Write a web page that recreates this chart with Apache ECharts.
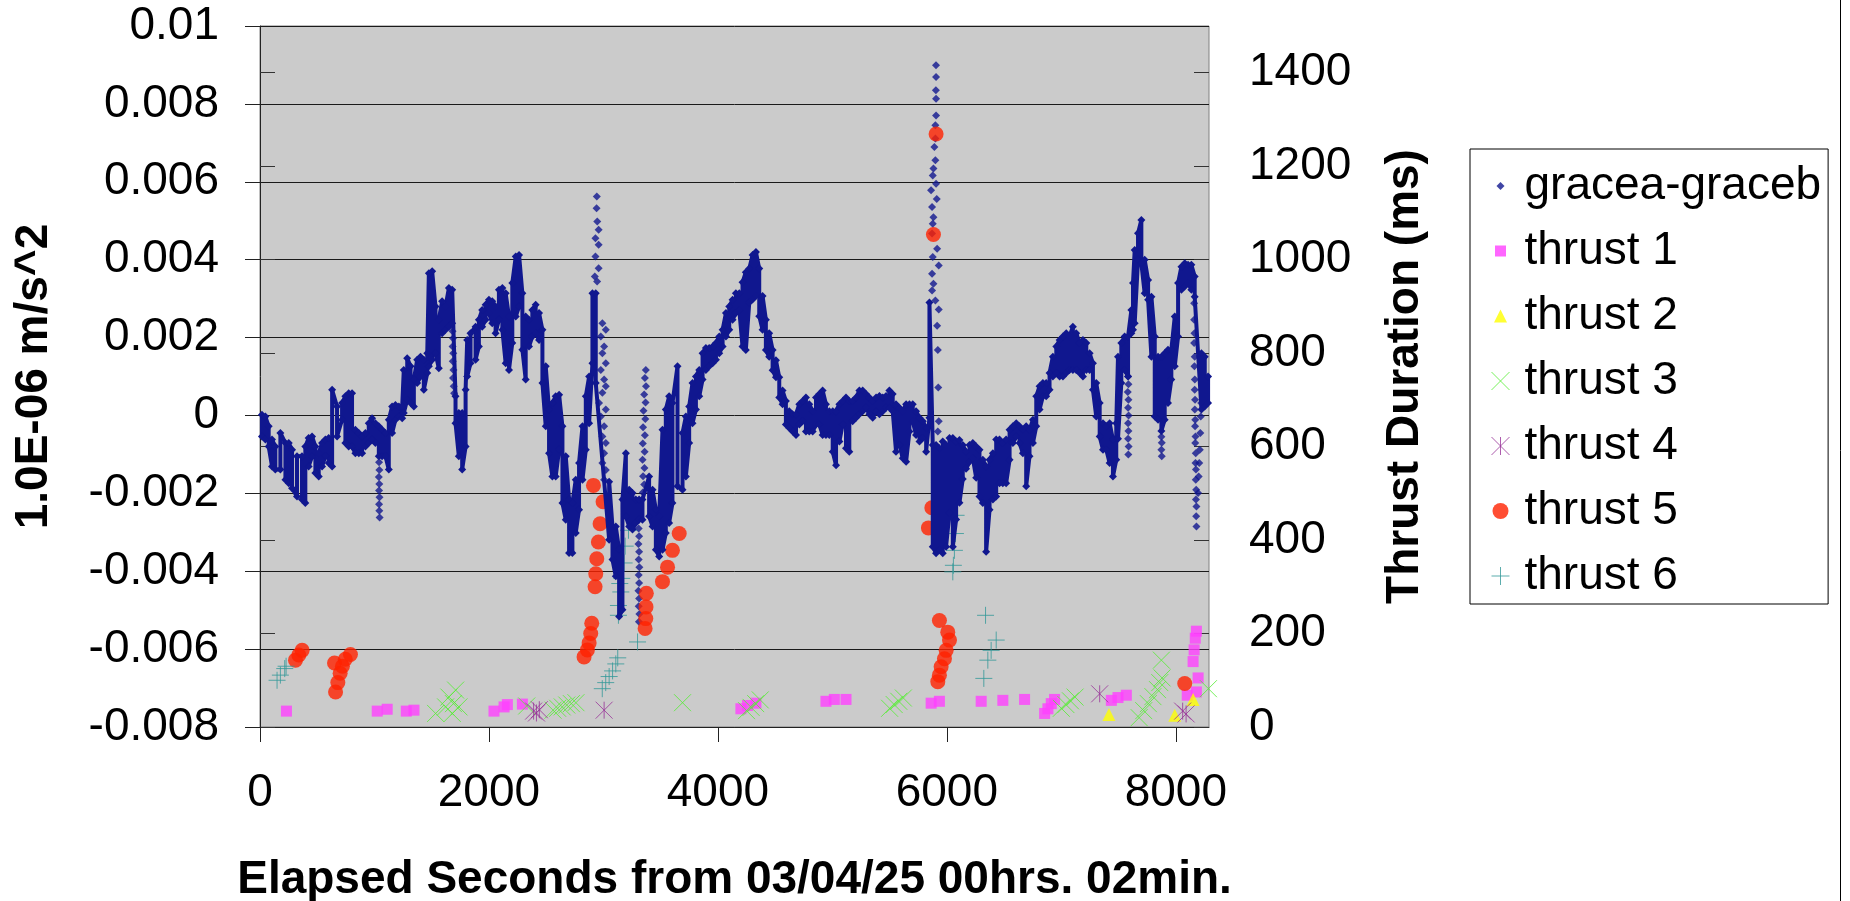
<!DOCTYPE html>
<html>
<head>
<meta charset="utf-8">
<title>gracea-graceb thrusts</title>
<script src="https://cdn.jsdelivr.net/npm/echarts@6/dist/echarts.min.js"></script>
<style>
html, body { margin: 0; padding: 0; background: #fff; }
#chart { width: 1850px; height: 901px; }
</style>
</head>
<body>
<div id="chart"></div>
<script>
var xTicks = [0, 2000, 4000, 6000, 8000];
var rightTicks = [0, 200, 400, 600, 800, 1000, 1200, 1400];

// gracea-graceb dense trace: top / bottom of the band at each time
var graceX = [17, 47, 76, 105, 134, 178, 222, 251, 280, 323,
    367, 396, 425, 455, 484, 513, 542, 571, 600, 630,
    673, 717, 746, 775, 804, 833, 863, 892, 921, 950,
    979, 1008, 1038, 1067, 1096, 1125, 1154, 1183, 1213, 1242,
    1256, 1286, 1315, 1344, 1373, 1402, 1431, 1461, 1475, 1504,
    1533, 1562, 1591, 1621, 1650, 1679, 1708, 1737, 1766, 1796,
    1810, 1839, 1883, 1912, 1941, 1971, 2000, 2029, 2058, 2087,
    2117, 2146, 2175, 2204, 2234, 2263, 2292, 2321, 2350, 2379,
    2408, 2438, 2467, 2496, 2525, 2554, 2583, 2613, 2642, 2671,
    2700, 2729, 2758, 2787, 2817, 2846, 2875, 2904, 2933, 3050,
    3079, 3108, 3137, 3166, 3196, 3225, 3254, 3283, 3312, 3341,
    3399, 3429, 3458, 3487, 3516, 3545, 3574, 3603, 3647, 3691,
    3720, 3749, 3778, 3808, 3837, 3866, 3895, 3924, 3954, 3983,
    4012, 4041, 4070, 4099, 4128, 4157, 4187, 4215, 4244, 4274,
    4303, 4332, 4361, 4390, 4419, 4448, 4478, 4507, 4536, 4565,
    4594, 4623, 4653, 4682, 4711, 4740, 4769, 4798, 4828, 4857,
    4886, 4915, 4944, 4973, 5003, 5032, 5061, 5090, 5119, 5148,
    5177, 5207, 5236, 5265, 5294, 5323, 5352, 5382, 5411, 5440,
    5469, 5498, 5527, 5556, 5586, 5615, 5644, 5673, 5702, 5731,
    5761, 5790, 5819, 5848, 5877, 5906, 5935, 5964, 5993, 6023,
    6052, 6081, 6110, 6139, 6168, 6198, 6227, 6256, 6285, 6314,
    6343, 6373, 6402, 6431, 6460, 6489, 6518, 6548, 6577, 6606,
    6635, 6664, 6693, 6722, 6752, 6781, 6810, 6839, 6868, 6897,
    6926, 6956, 6985, 7014, 7043, 7072, 7101, 7130, 7160, 7189,
    7218, 7247, 7276, 7305, 7335, 7364, 7393, 7422, 7451, 7480,
    7495, 7524, 7553, 7583, 7612, 7626, 7641, 7670, 7699, 7728,
    7758, 7787, 7816, 7845, 7874, 7903, 7932, 7961, 7991, 8020,
    8049, 8078, 8107, 8136, 8165, 8224, 8253, 8282];
var graceHi = [0.00002, -0.00003, -0.00028, -0.00062, -0.00080, -0.00045, -0.00071, -0.00071, -0.00088, -0.00105,
    -0.00105, -0.00080, -0.00058, -0.00054, -0.00080, -0.00097, -0.00071, -0.00062, -0.00058, 0.00066,
    0.00023, 0.00032, 0.00049, 0.00057, 0.00057, -0.00037, -0.00045, -0.00054, -0.00045, -0.00020,
    -0.00007, -0.00020, -0.00028, -0.00037, -0.00045, -0.00011, 0.00023, 0.00027, 0.00023, 0.00023,
    0.00117, 0.00147, 0.00126, 0.00092, 0.00143, 0.00151, 0.00143, 0.00160, 0.00365, 0.00370,
    0.00280, 0.00246, 0.00293, 0.00280, 0.00327, 0.00323, 0.00049, 0.00006, 0.00006, 0.00066,
    0.00194, 0.00211, 0.00228, 0.00246, 0.00271, 0.00284, 0.00297, 0.00293, 0.00280, 0.00323,
    0.00327, 0.00314, 0.00254, 0.00340, 0.00408, 0.00412, 0.00314, 0.00254, 0.00246, 0.00271,
    0.00284, 0.00263, 0.00220, 0.00126, 0.00015, 0.00032, 0.00049, 0.00053, -0.00028, -0.00105,
    -0.00216, -0.00225, -0.00165, -0.00122, -0.00028, 0.00049, 0.00100, 0.00314, 0.00314, -0.00170,
    -0.00285, -0.00285, -0.00345, -0.00216, -0.00097, -0.00191, -0.00199, -0.00216, -0.00216, -0.00216,
    -0.00157, -0.00191, -0.00242, -0.00259, -0.00037, 0.00015, 0.00049, 0.00032, 0.00126, -0.00045,
    -0.00003, 0.00023, 0.00083, 0.00100, 0.00117, 0.00160, 0.00173, 0.00173, 0.00177, 0.00186,
    0.00203, 0.00220, 0.00263, 0.00280, 0.00297, 0.00314, 0.00314, 0.00342, 0.00368, 0.00377,
    0.00412, 0.00420, 0.00377, 0.00307, 0.00246, 0.00211, 0.00168, 0.00142, 0.00098, 0.00064,
    0.00037, 0.00011, 0.00003, 0.00003, 0.00029, 0.00037, 0.00046, 0.00029, 0.00011, 0.00046,
    0.00055, 0.00064, 0.00029, 0.00011, 0.00011, 0.00011, 0.00029, 0.00037, 0.00046, 0.00037,
    0.00037, 0.00046, 0.00064, 0.00064, 0.00055, 0.00046, 0.00037, 0.00046, 0.00050, 0.00046,
    0.00050, 0.00064, 0.00055, 0.00029, 0.00020, 0.00011, 0.00029, 0.00029, 0.00029, 0.00011,
    -0.00006, -0.00015, -0.00032, 0.00290, -0.00076, -0.00076, -0.00084, -0.00067, -0.00076, -0.00058,
    -0.00058, -0.00067, -0.00063, -0.00076, -0.00093, -0.00076, -0.00071, -0.00080, -0.00088, -0.00114,
    -0.00131, -0.00114, -0.00097, -0.00062, -0.00062, -0.00071, -0.00062, -0.00037, -0.00028, -0.00020,
    -0.00028, -0.00037, -0.00028, -0.00037, -0.00011, 0.00049, 0.00075, 0.00083, 0.00083, 0.00109,
    0.00151, 0.00177, 0.00194, 0.00203, 0.00211, 0.00203, 0.00228, 0.00211, 0.00186, 0.00194,
    0.00186, 0.00160, 0.00134, 0.00083, 0.00032, -0.00020, -0.00028, -0.00020, -0.00062, -0.00020,
    0.00151, 0.00186, 0.00203, 0.00203, 0.00271, 0.00340, 0.00425, 0.00468, 0.00502, 0.00400,
    0.00348, 0.00305, 0.00203, 0.00151, 0.00151, 0.00160, 0.00169, 0.00169, 0.00254, 0.00340,
    0.00382, 0.00391, 0.00387, 0.00387, 0.00357, 0.00160, 0.00151, 0.00100];
var graceLo = [-0.00054, -0.00062, -0.00080, -0.00131, -0.00139, -0.00139, -0.00165, -0.00174, -0.00187, -0.00208,
    -0.00216, -0.00225, -0.00131, -0.00105, -0.00148, -0.00157, -0.00131, -0.00105, -0.00122, -0.00131,
    -0.00054, -0.00011, -0.00071, -0.00080, -0.00080, -0.00097, -0.00097, -0.00097, -0.00080, -0.00071,
    -0.00062, -0.00071, -0.00105, -0.00105, -0.00105, -0.00139, -0.00045, -0.00011, -0.00003, -0.00007,
    0.00006, 0.00040, 0.00032, 0.00023, 0.00083, 0.00100, 0.00066, 0.00109, 0.00126, 0.00143,
    0.00160, 0.00121, 0.00211, 0.00220, 0.00228, 0.00237, -0.00020, -0.00105, -0.00139, -0.00080,
    0.00100, 0.00134, 0.00143, 0.00177, 0.00228, 0.00246, 0.00263, 0.00237, 0.00211, 0.00246,
    0.00220, 0.00134, 0.00117, 0.00186, 0.00254, 0.00280, 0.00169, 0.00092, 0.00177, 0.00203,
    0.00211, 0.00194, 0.00083, -0.00028, -0.00097, -0.00157, -0.00157, -0.00088, -0.00225, -0.00268,
    -0.00353, -0.00353, -0.00302, -0.00242, -0.00165, -0.00088, -0.00020, 0.00134, 0.00083, -0.00319,
    -0.00370, -0.00413, -0.00516, -0.00499, -0.00259, -0.00285, -0.00293, -0.00276, -0.00268, -0.00268,
    -0.00259, -0.00285, -0.00345, -0.00362, -0.00345, -0.00302, -0.00276, -0.00225, -0.00182, -0.00191,
    -0.00157, -0.00071, -0.00020, 0.00015, 0.00049, 0.00092, 0.00117, 0.00126, 0.00134, 0.00143,
    0.00160, 0.00177, 0.00203, 0.00220, 0.00246, 0.00263, 0.00270, 0.00177, 0.00168, 0.00290,
    0.00298, 0.00307, 0.00255, 0.00220, 0.00168, 0.00151, 0.00116, 0.00098, 0.00046, 0.00029,
    -0.00023, -0.00032, -0.00041, -0.00050, -0.00023, -0.00015, -0.00041, -0.00041, -0.00041, -0.00023,
    -0.00023, -0.00050, -0.00050, -0.00050, -0.00093, -0.00128, -0.00067, -0.00023, -0.00084, -0.00093,
    -0.00015, -0.00006, 0.00003, 0.00011, 0.00020, 0.00003, -0.00006, 0.00011, 0.00003, 0.00011,
    0.00020, 0.00020, 0.00011, -0.00093, -0.00076, -0.00110, -0.00119, -0.00041, -0.00015, -0.00050,
    -0.00067, -0.00058, -0.00093, -0.00006, -0.00337, -0.00354, -0.00345, -0.00354, -0.00337, -0.00250,
    -0.00337, -0.00267, -0.00224, -0.00163, -0.00137, -0.00119, -0.00110, -0.00160, -0.00208, -0.00225,
    -0.00350, -0.00242, -0.00216, -0.00208, -0.00174, -0.00174, -0.00174, -0.00114, -0.00071, -0.00054,
    -0.00071, -0.00097, -0.00182, -0.00105, -0.00071, -0.00028, 0.00015, 0.00049, 0.00049, 0.00066,
    0.00100, 0.00109, 0.00100, 0.00100, 0.00109, 0.00117, 0.00117, 0.00117, 0.00109, 0.00100,
    0.00117, 0.00117, 0.00066, -0.00003, -0.00054, -0.00088, -0.00088, -0.00122, -0.00157, -0.00114,
    -0.00060, 0.00083, 0.00117, 0.00100, 0.00211, 0.00220, 0.00237, 0.00400, 0.00391, 0.00314,
    0.00297, 0.00151, -0.00003, -0.00011, -0.00040, -0.00011, 0.00032, 0.00092, 0.00126, 0.00203,
    0.00323, 0.00331, 0.00340, 0.00323, 0.00305, 0.00015, 0.00023, 0.00032];

// gracea-graceb isolated points (fast excursions)
var spikeX = [1040, 1043, 1038, 1042, 1040, 1044, 1040, 1042, 1045,
    1682, 1686, 1682, 1688, 1684, 1690, 1686, 1692, 1696,
    2942, 2940, 2946, 2958, 2930, 2958, 2930, 2958, 2925, 2945,
    2991, 3021, 2977, 3006, 2991, 3021, 2977, 3006, 3021, 2991, 2962, 3021, 2977, 3006, 2991, 3021, 3006, 2991, 3021, 3006,
    3308, 3312, 3306, 3312, 3308, 3314, 3308, 3312, 3306, 3312, 3308, 3314, 3310,
    3370, 3362, 3372, 3356, 3368, 3350, 3366, 3346, 3362, 3344, 3360, 3342, 3358, 3346, 3356, 3344,
    5905, 5906, 5904, 5906, 5906, 5900, 5900, 5891, 5900, 5883, 5877, 5906, 5862, 5912, 5871, 5883, 5877, 5871, 5915, 5877, 5929, 5871, 5883, 5871, 5900, 5929,
    5921, 5925, 5929, 5921, 5915,
    7583, 7586, 7580, 7586, 7583, 7588, 7583, 7586, 7583, 7588, 7585,
    7874, 7877, 7874, 7877,
    8160, 8160, 8163, 8160, 8165, 8163, 8166, 8165, 8168, 8166, 8170, 8168, 8172, 8170, 8174, 8172, 8176, 8174, 8178, 8176, 8180, 8178, 8180,
    8195, 8200, 8205, 8210, 8214, 8218, 8222, 8226, 8230];
var spikeY = [-0.00120, -0.00140, -0.00158, -0.00176, -0.00193, -0.00210, -0.00228, -0.00245, -0.00262,
    0.00216, 0.00198, 0.00177, 0.00160, 0.00139, 0.00117, 0.00096, 0.00075, 0.00057,
    0.00562, 0.00532, 0.00498, 0.00477, 0.00455, 0.00438, 0.00408, 0.00378, 0.00357, 0.00344,
    0.00237, 0.00220, 0.00203, 0.00177, 0.00160, 0.00134, 0.00117, 0.00092, 0.00075, 0.00058, 0.00032, 0.00015, -0.00003, -0.00028, -0.00054, -0.00071, -0.00097, -0.00122, -0.00140, -0.00165,
    -0.00290, -0.00310, -0.00330, -0.00350, -0.00370, -0.00390, -0.00410, -0.00430, -0.00450, -0.00470, -0.00490, -0.00510, -0.00530,
    0.00117, 0.00096, 0.00075, 0.00054, 0.00033, 0.00012, -0.00009, -0.00030, -0.00051, -0.00072, -0.00093, -0.00114, -0.00135, -0.00156, -0.00177, -0.00198,
    0.00899, 0.00869, 0.00835, 0.00813, 0.00770, 0.00745, 0.00711, 0.00689, 0.00655, 0.00634, 0.00616, 0.00595, 0.00578, 0.00556, 0.00535, 0.00509, 0.00492, 0.00467, 0.00428, 0.00407, 0.00385, 0.00364, 0.00338, 0.00321, 0.00295, 0.00272,
    0.00168, 0.00072, -0.00015, -0.00041, 0.00230,
    0.00100, 0.00080, 0.00060, 0.00040, 0.00020, 0.00000, -0.00020, -0.00040, -0.00060, -0.00080, -0.00100,
    -0.00055, -0.00070, -0.00088, -0.00105,
    0.00288, 0.00246, 0.00211, 0.00186, 0.00151, 0.00126, 0.00092, 0.00066, 0.00040, 0.00015, -0.00011, -0.00028, -0.00054, -0.00071, -0.00097, -0.00122, -0.00139, -0.00165, -0.00191, -0.00216, -0.00234, -0.00259, -0.00285,
    -0.00199, -0.00157, -0.00122, -0.00088, -0.00045, -0.00003, 0.00032, 0.00066, 0.00100];

// thrust durations (ms, right axis)
var thrust1X = [231, 1024, 1111, 1278, 1345, 2044, 2132, 2161, 2292, 4201, 4259, 4332, 4944, 5017, 5119, 5863, 5935,
    6300, 6489, 6679, 6854, 6883, 6912, 6941, 7437, 7495, 7568, 8100, 8180, 8195, 8151, 8160, 8170, 8180];
var thrust1Y = [34, 34, 38, 34, 36, 34, 43, 48, 49, 39, 46, 51, 55, 59, 59, 51, 55,
    55, 57, 59, 29, 39, 50, 59, 57, 63, 68, 68, 75, 105, 140, 165, 190, 205];

var thrust2X = [7416, 7991, 8151];
var thrust2Y = [27, 25, 59];

var thrust3X = [1534, 1621, 1650, 1680, 1690, 1709, 1738, 2330, 2560, 2600, 2640, 2680, 2720, 2760, 3691,
    4250, 4290, 4330, 4370, 5500, 5540, 5580, 5620, 7000, 7040, 7080, 7120,
    7680, 7720, 7760, 7800, 7840, 7860, 7880, 7874, 8285];
var thrust3Y = [29, 43, 64, 29, 50, 79, 43, 45, 36, 40, 43, 47, 50, 52, 52,
    35, 42, 50, 58, 40, 48, 55, 62, 40, 48, 56, 64,
    20, 35, 50, 65, 80, 95, 105, 143, 82];

var thrust4X = [2390, 2415, 2440, 3006, 7335, 8060, 8090];
var thrust4Y = [34, 30, 37, 36, 71, 34, 28];

var thrust5X = [310, 339, 368, 651, 660, 680, 700, 720, 745, 790,
    2831, 2860, 2875, 2889, 2898, 2927, 2933, 2942, 2956, 2971, 2997, 2913,
    3364, 3370, 3372, 3375, 3516, 3560, 3603, 3662,
    5839, 5869, 5883, 5906, 5921, 5935, 5950, 5979, 5994, 6023, 6008, 5935, 8078];
var thrust5Y = [143, 154, 164, 137, 75, 95, 115, 130, 145, 155,
    150, 165, 180, 200, 222, 300, 328, 360, 396, 435, 482, 517,
    211, 232, 257, 286, 311, 342, 378, 414,
    426, 469, 1054, 1269, 97, 111, 129, 146, 164, 186, 203, 228, 93];

var thrust6X = [149, 178, 216, 228, 2990, 3020, 3050, 3080, 3108, 3125, 3298,
    3131, 3131, 3152, 3143, 3160, 3181, 3190, 3219,
    6052, 6057, 6066, 6075, 6081, 6323, 6358, 6387, 6431, 6338];
var thrust6Y = [100, 111, 125, 130, 82, 95, 108, 120, 135, 148, 182,
    239, 260, 289, 307, 318, 351, 387, 421,
    332, 346, 378, 414, 453, 104, 143, 164, 186, 239];

var FONT = 'Liberation Sans, Arial, sans-serif';
var xMark = 'path://M0,0L10,10M10,0L0,10';
var plusMark = 'path://M5,0L5,10M0,5L10,5';
var starMark = 'path://M0,0L10,10M10,0L0,10M5,0L5,10';

function pairs(xs, ys) {
    var out = [];
    for (var i = 0; i < xs.length; i++) {
        out.push([xs[i], ys[i]]);
    }
    return out;
}

// walk the band top->bottom, bottom->top so the stroke fills it
function bandData() {
    var out = [];
    for (var i = 0; i < graceX.length; i++) {
        if (i % 2 === 0) {
            out.push([graceX[i], graceHi[i]]);
            out.push([graceX[i], graceLo[i]]);
        } else {
            out.push([graceX[i], graceLo[i]]);
            out.push([graceX[i], graceHi[i]]);
        }
    }
    return out;
}

function plain(v) {
    return String(v);
}

function strokeMarker(name, symbol, color, xs, ys) {
    return {
        name: name,
        type: 'scatter',
        yAxisIndex: 1,
        symbol: symbol,
        symbolSize: 17,
        itemStyle: { color: color, borderColor: color, borderWidth: 1 },
        data: pairs(xs, ys)
    };
}

var navy = '#10178f';
var chart = echarts.init(document.getElementById('chart'));

var option = {
    animation: false,
    backgroundColor: '#fff',
    textStyle: { fontFamily: FONT },
    grid: {
        left: 260,
        top: 26,
        width: 949,
        height: 701,
        show: true,
        backgroundColor: '#cbcbcb',
        borderColor: '#808080',
        borderWidth: 1,
        outerBoundsMode: 'none'
    },
    legend: {
        orient: 'vertical',
        left: 1470,
        top: 149,
        padding: [12, 7, 3, 21],
        itemGap: 15,
        itemWidth: 18,
        itemHeight: 18,
        borderColor: '#000',
        borderWidth: 1,
        backgroundColor: '#fff',
        textStyle: { fontFamily: FONT, fontSize: 46, color: '#000', lineHeight: 50, padding: [0, 0, 0, 10] },
        data: [
            { name: 'gracea-graceb', icon: 'path://M0,0M18,18M5,9L9,5L13,9L9,13Z' },
            { name: 'thrust 1', icon: 'path://M0,0M18,18M3.5,3.5L14.5,3.5L14.5,14.5L3.5,14.5Z' },
            { name: 'thrust 2', icon: 'path://M0,0M18,18M9,2.5L15.5,15.5L2.5,15.5Z' },
            { name: 'thrust 3', icon: xMark, itemStyle: { borderWidth: 1 } },
            { name: 'thrust 4', icon: starMark, itemStyle: { borderWidth: 1 } },
            { name: 'thrust 5', icon: 'path://M0,0M18,18M1,9A8,8,0,1,1,17,9A8,8,0,1,1,1,9Z' },
            { name: 'thrust 6', icon: plusMark, itemStyle: { borderWidth: 1 } }
        ]
    },
    xAxis: {
        type: 'value',
        min: 0,
        max: 8290,
        interval: 2000,
        name: 'Elapsed Seconds from 03/04/25 00hrs. 02min.',
        nameLocation: 'middle',
        nameGap: 130,
        nameMoveOverlap: false,
        nameTextStyle: { fontFamily: FONT, fontSize: 46, fontWeight: 'bold', color: '#000' },
        axisLine: { show: true, onZero: false, lineStyle: { color: '#222', width: 1 } },
        axisTick: { show: true, length: 15, customValues: xTicks, lineStyle: { color: '#222' } },
        axisLabel: { fontFamily: FONT, fontSize: 46, color: '#000', margin: 43, customValues: xTicks, formatter: plain },
        splitLine: { show: false }
    },
    yAxis: [
        {
            type: 'value',
            position: 'left',
            min: -0.008,
            max: 0.01,
            interval: 0.002,
            name: '1.0E-06 m/s^2',
            nameLocation: 'middle',
            nameGap: 203,
            nameMoveOverlap: false,
            nameTextStyle: { fontFamily: FONT, fontSize: 46, fontWeight: 'bold', color: '#000' },
            axisLine: { show: true, onZero: false, lineStyle: { color: '#222', width: 1 } },
            axisTick: { show: true, length: 15, lineStyle: { color: '#222' } },
            axisLabel: { fontFamily: FONT, fontSize: 46, color: '#000', margin: 41, formatter: plain },
            splitLine: { show: true, lineStyle: { color: '#1a1a1a', width: 1 } }
        },
        {
            // duration axis: outward half of the ticks, labels and title
            type: 'value',
            position: 'right',
            min: 0,
            max: 1500,
            interval: 200,
            name: 'Thrust Duration (ms)',
            nameLocation: 'middle',
            nameGap: 173,
            nameMoveOverlap: false,
            nameTextStyle: { fontFamily: FONT, fontSize: 46, fontWeight: 'bold', color: '#000' },
            axisLine: { show: false },
            axisTick: { show: true, length: 15, customValues: rightTicks, lineStyle: { color: '#333' } },
            axisLabel: { fontFamily: FONT, fontSize: 46, color: '#000', margin: 40, customValues: rightTicks, formatter: plain },
            splitLine: { show: false }
        },
        {
            // same scale, inward half of the crossing ticks
            type: 'value',
            position: 'right',
            min: 0,
            max: 1500,
            interval: 200,
            axisLine: { show: false },
            axisTick: { show: true, inside: true, length: 15, customValues: rightTicks, lineStyle: { color: '#333' } },
            axisLabel: { show: false },
            splitLine: { show: false }
        }
    ],
    series: [
        {
            name: 'gracea-graceb',
            type: 'scatter',
            yAxisIndex: 0,
            symbol: 'diamond',
            symbolSize: 8,
            itemStyle: { color: navy },
            data: pairs(spikeX, spikeY)
        },
        {
            name: 'gracea-graceb',
            type: 'line',
            yAxisIndex: 0,
            symbol: 'diamond',
            symbolSize: 8,
            showSymbol: true,
            showAllSymbol: true,
            itemStyle: { color: navy },
            lineStyle: { color: navy, width: 4 },
            data: bandData()
        },
        {
            name: 'thrust 1',
            type: 'scatter',
            yAxisIndex: 1,
            symbol: 'rect',
            symbolSize: 11,
            itemStyle: { color: '#ff40ff' },
            data: pairs(thrust1X, thrust1Y)
        },
        {
            name: 'thrust 2',
            type: 'scatter',
            yAxisIndex: 1,
            symbol: 'triangle',
            symbolSize: 13,
            itemStyle: { color: '#ffff00' },
            data: pairs(thrust2X, thrust2Y)
        },
        strokeMarker('thrust 3', xMark, '#55ee33', thrust3X, thrust3Y),
        strokeMarker('thrust 4', starMark, '#993399', thrust4X, thrust4Y),
        {
            name: 'thrust 5',
            type: 'scatter',
            yAxisIndex: 1,
            symbol: 'circle',
            symbolSize: 15,
            itemStyle: { color: '#ff2200' },
            data: pairs(thrust5X, thrust5Y)
        },
        strokeMarker('thrust 6', plusMark, '#339999', thrust6X, thrust6Y)
    ],
    graphic: [
        { type: 'line', shape: { x1: 1840.5, y1: 0, x2: 1840.5, y2: 901 }, style: { stroke: '#000', lineWidth: 1 } }
    ]
};

chart.setOption(option);
</script>
</body>
</html>
